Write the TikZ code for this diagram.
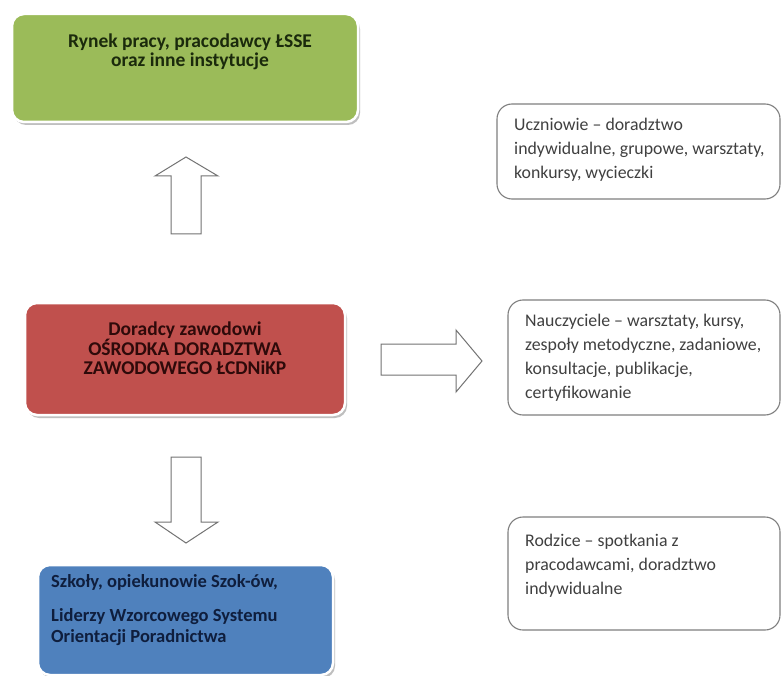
\documentclass[tikz,border=0pt]{standalone}
\usepackage{fontspec}
\setmainfont{Carlito}
\usetikzlibrary{shadows}
\definecolor{boxgreen}{HTML}{9BBB59}
\definecolor{boxred}{HTML}{C0504D}
\definecolor{boxblue}{HTML}{4F81BD}
\definecolor{txtgreen}{HTML}{1B2A0C}
\definecolor{txtred}{HTML}{2E0A0A}
\definecolor{txtblue}{HTML}{0F1E3D}
\definecolor{wline}{HTML}{7F7F7F}
\definecolor{wtxt}{HTML}{404040}
\tikzset{
  cbox/.style={rectangle, rounded corners=12pt, draw=white, line width=2.5pt,
    drop shadow={shadow xshift=2pt, shadow yshift=-3pt, fill=black!45, opacity=.55},
    inner sep=0pt},
  wbox/.style={rectangle, rounded corners=15pt, draw=wline, line width=1.1pt, fill=white, inner sep=0pt},
  ctext/.style={font=\fontsize{19.5}{19.5}\selectfont\bfseries, align=center, inner sep=0pt},
  btext/.style={font=\fontsize{18.5}{21}\selectfont\bfseries, align=left, inner sep=0pt, text=txtblue},
  wtext/.style={font=\fontsize{17.8}{24}\selectfont, align=left, inner sep=0pt, text=wtxt},
  blockarrow/.style={draw=black!55, line width=1pt, fill=white, line join=miter}
}
\begin{document}
\begin{tikzpicture}[x=1pt,y=-1pt]
\useasboundingbox[fill=white] (0,0) rectangle (781,676);

% coloured boxes
\node[cbox, fill=boxgreen, minimum width=346pt, minimum height=108pt] (green) at (185,68) {};
\node[ctext, text=txtgreen] (greentxt) at (190,52) {Rynek pracy, pracodawcy ŁSSE\\oraz inne instytucje};

\node[cbox, fill=boxred, minimum width=320pt, minimum height=112pt] (red) at (185,359) {};
\node[ctext, text=txtred] (redtxt) at (185,348.5) {Doradcy zawodowi\\OŚRODKA DORADZTWA\\ZAWODOWEGO ŁCDNiKP};

\node[cbox, fill=boxblue, minimum width=295pt, minimum height=110pt] (blue) at (185.5,620) {};
\node[btext, anchor=west] (bluetxt) at (51,610.5) {Szkoły, opiekunowie Szok-ów,\\[13pt]Liderzy Wzorcowego Systemu\\Orientacji Poradnictwa};

% white boxes
\node[wbox, minimum width=283pt, minimum height=95pt] (uczn) at (638.5,151.5) {};
\node[wtext, anchor=west] (uczntxt) at (514,150) {Uczniowie – doradztwo\\indywidualne, grupowe, warsztaty,\\konkursy, wycieczki};

\node[wbox, minimum width=272pt, minimum height=115pt] (naucz) at (644,357.5) {};
\node[wtext, anchor=west] (naucztxt) at (525,358) {Nauczyciele – warsztaty, kursy,\\zespoły metodyczne, zadaniowe,\\konsultacje, publikacje,\\certyfikowanie};

\node[wbox, minimum width=272pt, minimum height=113pt] (rodz) at (644,573.5) {};
\node[wtext, anchor=west] (rodztxt) at (525,566) {Rodzice – spotkania z\\pracodawcami, doradztwo\\indywidualne};

% block arrows
\draw[blockarrow] (171,234) -- (171,176) -- (155,176) -- (186,157) -- (218,176) -- (201,176) -- (201,234) -- cycle;
\draw[blockarrow] (381,344) -- (456,344) -- (456,330) -- (482,361) -- (456,392) -- (456,375) -- (381,375) -- cycle;
\draw[blockarrow] (171,457) -- (201,457) -- (201,522) -- (218,522) -- (186,543) -- (155,522) -- (171,522) -- cycle;
\end{tikzpicture}
\end{document}
